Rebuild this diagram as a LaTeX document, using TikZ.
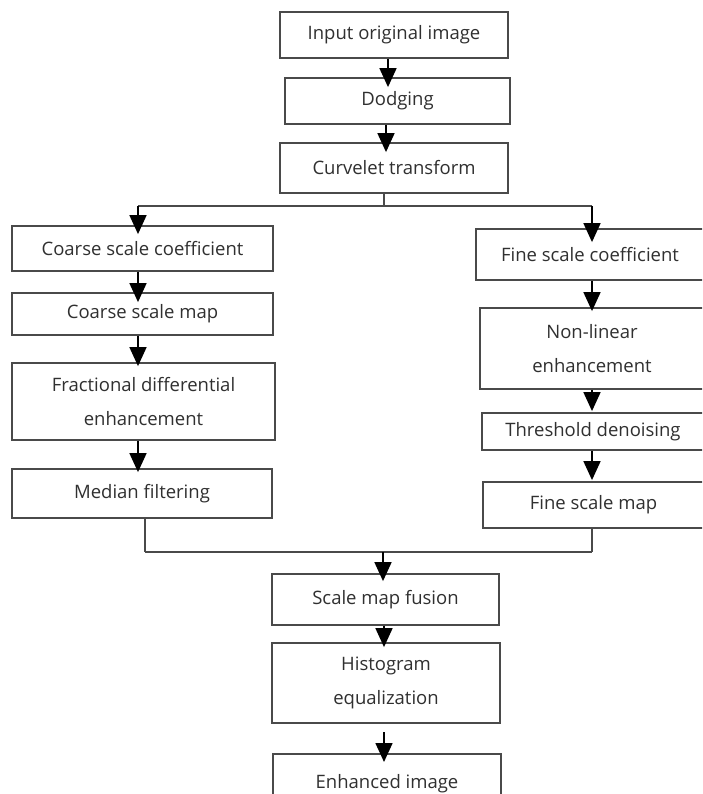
\documentclass[tikz,border=0pt]{standalone}
\usepackage{fontspec}
\setmainfont{Open Sans}
\usetikzlibrary{arrows.meta}
\definecolor{txt}{HTML}{303030}
\definecolor{ln}{HTML}{4A4A4A}
\tikzset{
  box/.style={draw=ln, line width=1.8pt, fill=white, inner sep=0pt, align=center,
    text=txt, font=\fontsize{18.5}{34}\selectfont},
  conn/.style={draw=ln, line width=1.6pt},
  arr/.style={conn, -{Triangle[length=19pt,width=17pt]}, black},
}
\begin{document}
\begin{tikzpicture}[x=1pt,y=-1pt]
\useasboundingbox (0,0) rectangle (702,794);
\clip (0,0) rectangle (702,794);
% boxes: centre, width, height
\node[box, minimum width=228, minimum height=46] (in)  at (394,35)    {\raisebox{-2pt}{Input original image}};
\node[box, minimum width=225, minimum height=46] (dod) at (397.5,101) {\raisebox{-2pt}{Dodging}};
\node[box, minimum width=228, minimum height=50] (cur) at (394,168)   {Curvelet transform};
\node[box, minimum width=261, minimum height=45] (cc)  at (142.5,248.5) {\raisebox{-2pt}{Coarse scale coefficient}};
\node[box, minimum width=261, minimum height=42] (cm)  at (142.5,314) {\raisebox{-4pt}{Coarse scale map}};
\node[box, minimum width=263, minimum height=77] (fd)  at (143.5,401.5) {\raisebox{-2pt}{\parbox{250pt}{\centering Fractional differential\\enhancement}}};
\node[box, minimum width=260, minimum height=49] (mf)  at (142,493.5) {Median filtering};
\node[box, minimum width=228, minimum height=51] (fc)  at (590,254.5) {\raisebox{-2pt}{Fine scale coefficient}};
\node[box, minimum width=224, minimum height=81] (nl)  at (592,348.5) {\raisebox{-2pt}{\parbox{210pt}{\centering Non-linear\\enhancement}}};
\node[box, minimum width=222, minimum height=37] (td)  at (593,431.5) {\raisebox{-6pt}{Threshold denoising}};
\node[box, minimum width=221, minimum height=46] (fm)  at (593.5,505) {Fine scale map};
\node[box, minimum width=227, minimum height=51] (fus) at (385.5,599.5) {Scale map fusion};
\node[box, minimum width=228, minimum height=80] (his) at (386,683) {\raisebox{-2pt}{\parbox{210pt}{\centering Histogram\\equalization}}};
\node[box, minimum width=228, minimum height=60, anchor=north] (enh) at (387,753) {\raisebox{-6pt}{Enhanced image}};
% connector columns
\coordinate (x1) at (388,0);
\coordinate (x2) at (386,0);
\coordinate (x3) at (384,0);
\coordinate (xl) at (138,0);
\coordinate (xl2) at (145,0);
\coordinate (xr) at (592,0);
\coordinate (xm) at (383,0);
\coordinate (split) at (384,206);
\coordinate (merge) at (383,552);
\coordinate (hgap) at (384,732);
% top chain
\draw[arr, shorten >=-10pt] (in.south -| x1) -- (dod.north -| x1);
\draw[arr, shorten >=-10pt] (dod.south -| x2) -- (cur.north -| x2);
\draw[conn] (cur.south -| split) -- (split);
\draw[conn] (split -| xl) -- (split -| xr);
% left branch
\draw[arr, shorten >=-9pt] (split -| xl) -- (cc.north -| xl);
\draw[arr, shorten >=-10pt] (cc.south -| xl) -- (cm.north -| xl);
\draw[arr, shorten >=-4pt] (cm.south -| xl) -- (fd.north -| xl);
\draw[arr, shorten >=-4pt] (fd.south -| xl) -- (mf.north -| xl);
\draw[conn] (mf.south -| xl2) -- (merge -| xl2);
% right branch
\draw[arr, shorten >=-14pt] (split -| xr) -- (fc.north -| xr);
\draw[arr, shorten >=-4pt] (fc.south -| xr) -- (nl.north -| xr);
\draw[arr, shorten >=1pt] (nl.south -| xr) -- (td.north -| xr);
\draw[arr, shorten >=1pt] (td.south -| xr) -- (fm.north -| xr);
\draw[conn] (fm.south -| xr) -- (merge -| xr);
\draw[conn] (merge -| xl2) -- (merge -| xr);
% bottom chain
\draw[arr, shorten >=-8pt] (merge) -- (fus.north -| xm);
\draw[arr, shorten >=-5pt] (fus.south -| x3) -- (his.north -| x3);
\draw[arr, shorten >=-9pt] (hgap) -- (enh.north -| x3);
\end{tikzpicture}
\end{document}
